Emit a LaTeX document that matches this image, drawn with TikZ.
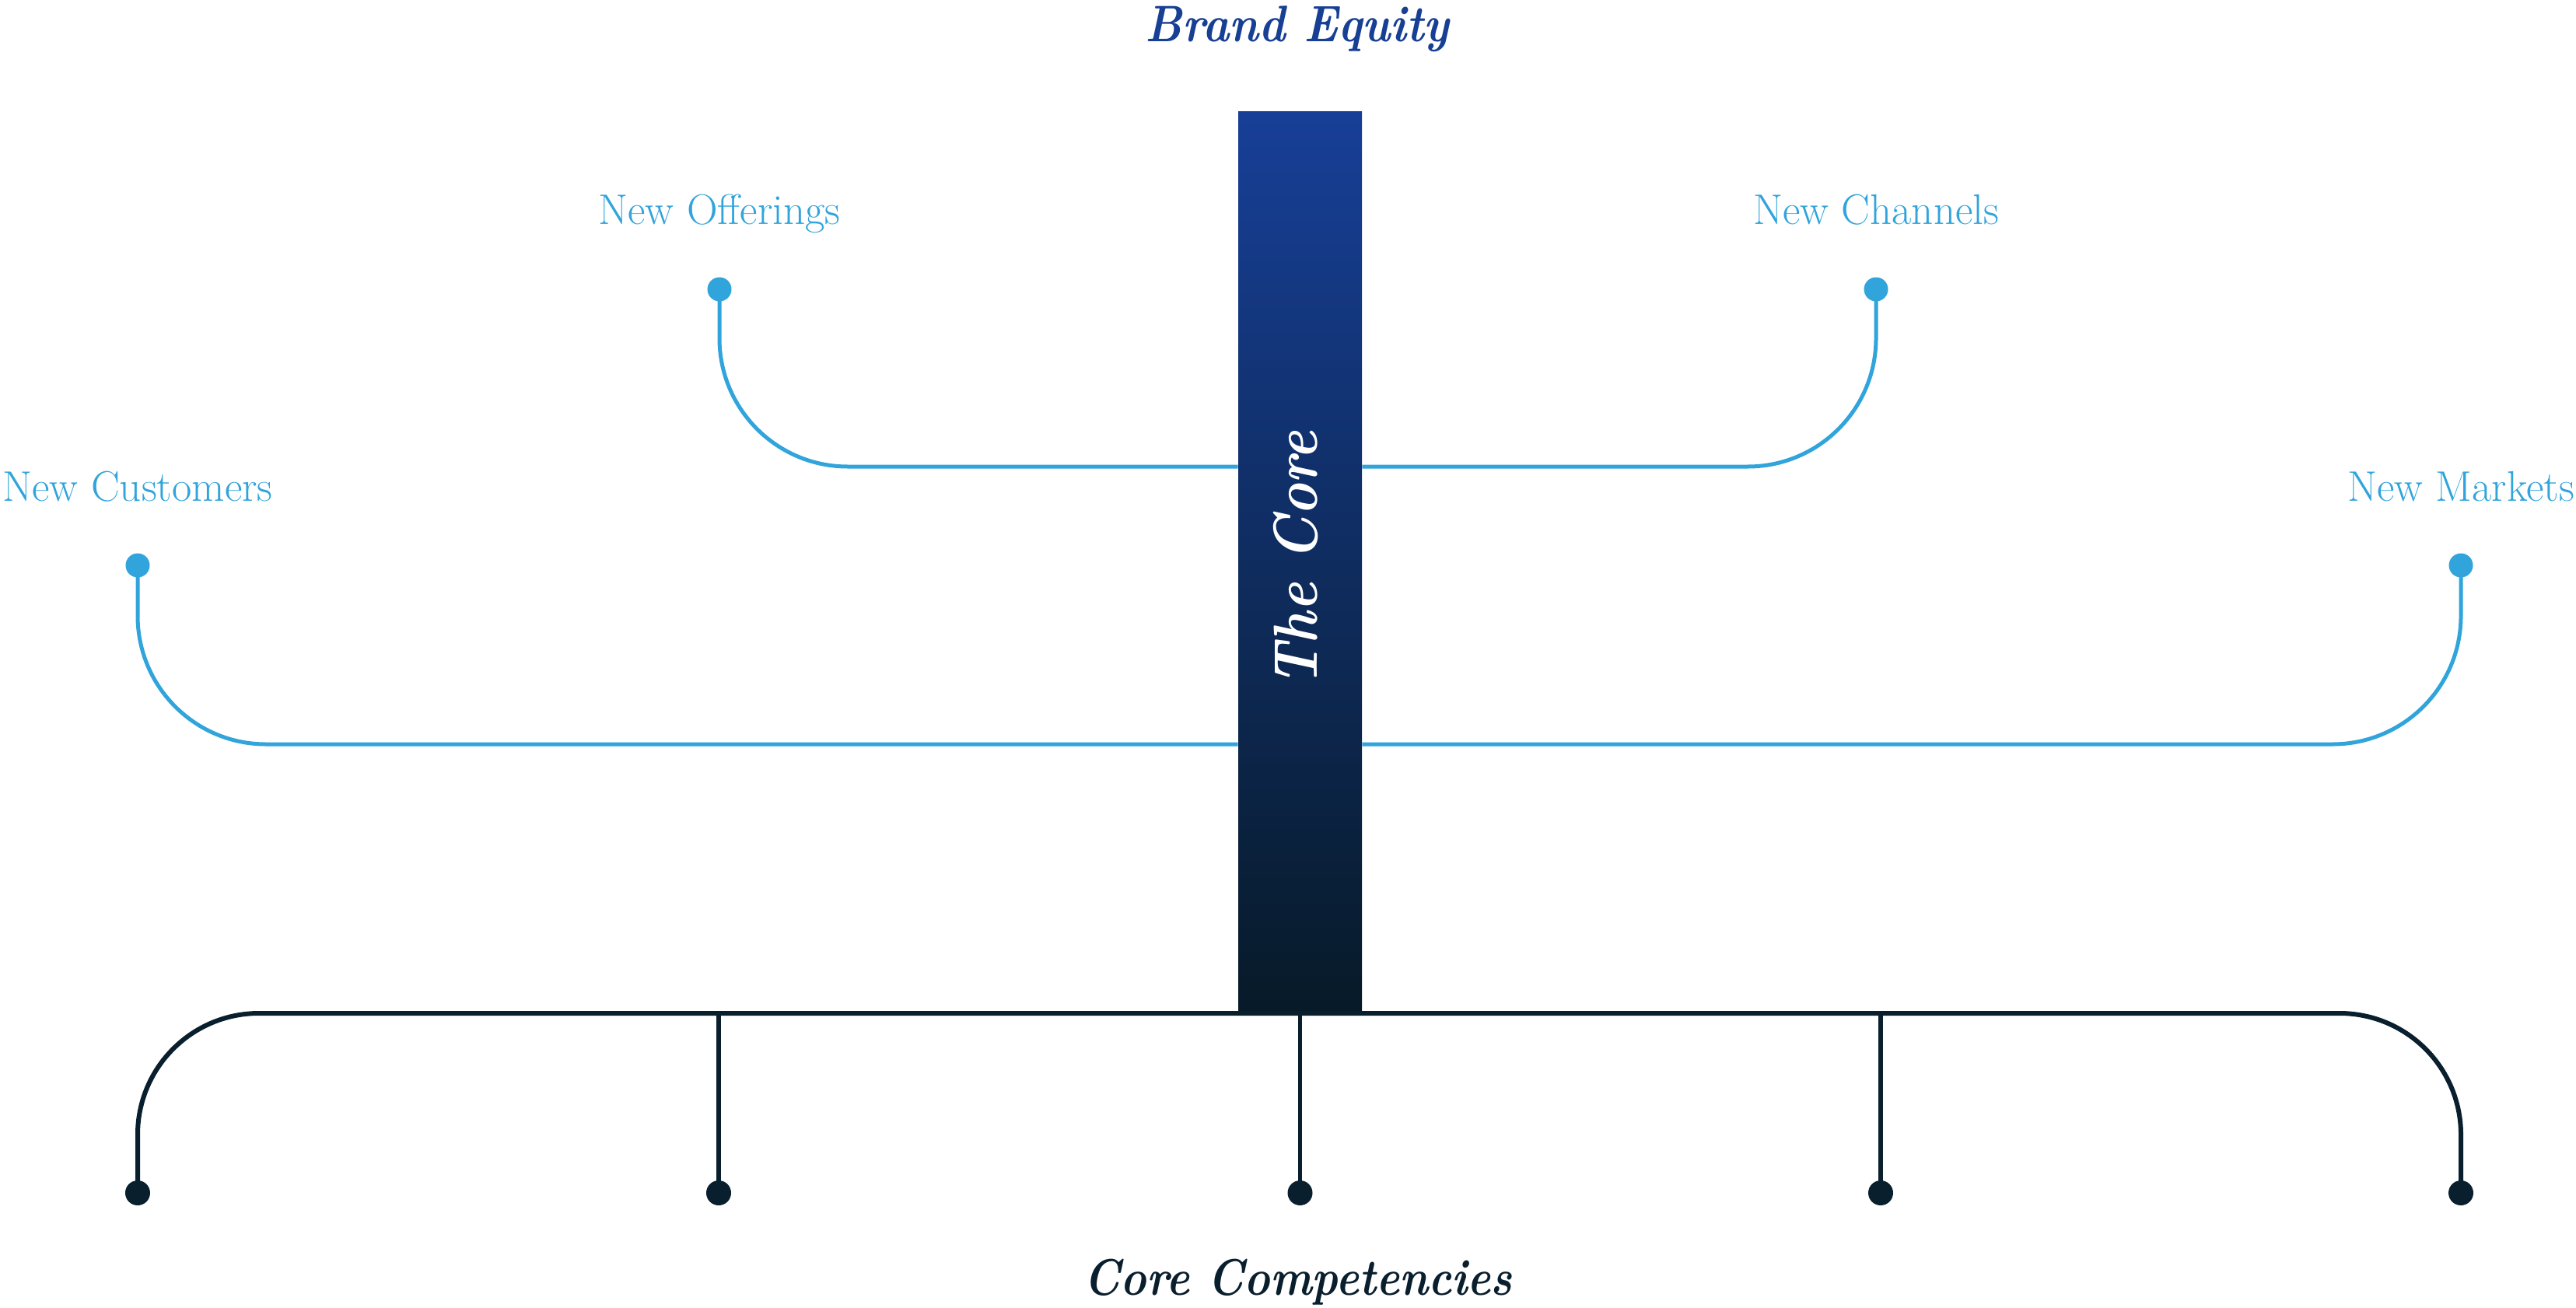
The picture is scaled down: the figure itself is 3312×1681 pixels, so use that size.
\documentclass[tikz,border=0pt]{standalone}
\definecolor{lblue}{HTML}{31A4DB}
\definecolor{tblue}{HTML}{173F94}
\definecolor{bartop}{HTML}{173F97}
\definecolor{barbot}{HTML}{071A28}
\definecolor{navy}{HTML}{0A1F2E}
\tikzset{
  bdot/.style={circle, fill=lblue, inner sep=0pt, minimum size=15.5pt},
  ndot/.style={circle, fill=navy, inner sep=0pt, minimum size=16pt},
  blink/.style={draw=lblue, line width=2.5pt, rounded corners=82.5pt},
  nlink/.style={draw=navy, line width=3pt},
  lbl/.style={text=lblue, anchor=base, inner sep=0pt, font=\fontsize{27.5}{32}\selectfont},
  ttl/.style={anchor=base, inner sep=0pt, font=\bfseries\itshape\fontsize{33}{40}\selectfont},
  corebar/.style={rectangle, inner sep=0pt, top color=bartop, bottom color=barbot, minimum width=79.5pt, minimum height=579pt}
}
\begin{document}
\begin{tikzpicture}[x=0.5pt,y=-0.5pt]
\useasboundingbox (0,0) rectangle (3312,1681);
% titles
\node[ttl, text=tblue] (brand) at (1668,53) {\scalebox{0.88}[1]{Brand Equity}};
\node[ttl, text=navy] (comp) at (1669,1665) {\scalebox{0.86}[1]{Core Competencies}};
% labels
\node[lbl] (tOff) at (925,288) {New Offerings};
\node[lbl] (tChan) at (2412,288) {New Channels};
\node[lbl] (tCus) at (177,644) {New Customers};
\node[lbl] (tMkt) at (3164,644) {New Markets};
% bar
\node[corebar] (core) at (1671.5,722) {};
\coordinate (hi) at (1671.5,600);
\coordinate (lo) at (1671.5,957);
\coordinate (hl) at (1671.5,1303);
% blue dots
\node[bdot] (dOff) at (925,372) {};
\node[bdot] (dChan) at (2412,372) {};
\node[bdot] (dCus) at (177,727) {};
\node[bdot] (dMkt) at (3164,727) {};
\draw[blink] (dOff.center) |- (core.west |- hi);
\draw[blink] (dChan.center) |- (core.east |- hi);
\draw[blink] (dCus.center) |- (core.west |- lo);
\draw[blink] (dMkt.center) |- (core.east |- lo);
% navy dots
\node[ndot] (n1) at (177,1534) {};
\node[ndot] (n2) at (924,1534) {};
\node[ndot] (n3) at (1671.5,1534) {};
\node[ndot] (n4) at (2418,1534) {};
\node[ndot] (n5) at (3164,1534) {};
\draw[nlink, rounded corners=78pt] (n1.center) -- (n1 |- hl) -- (n5 |- hl) -- (n5.center);
\draw[nlink, line width=2.6pt] (n2.center) -- (n2 |- hl);
\draw[nlink, line width=2.6pt] (n3.center) -- (n3 |- hl);
\draw[nlink, line width=2.6pt] (n4.center) -- (n4 |- hl);
% core text
\node[text=white, rotate=90, inner sep=0pt, font=\bfseries\itshape\fontsize{40}{48}\selectfont] (coreTxt) at (1666,719) {\scalebox{0.87}[1]{The Core}};
\end{tikzpicture}
\end{document}
